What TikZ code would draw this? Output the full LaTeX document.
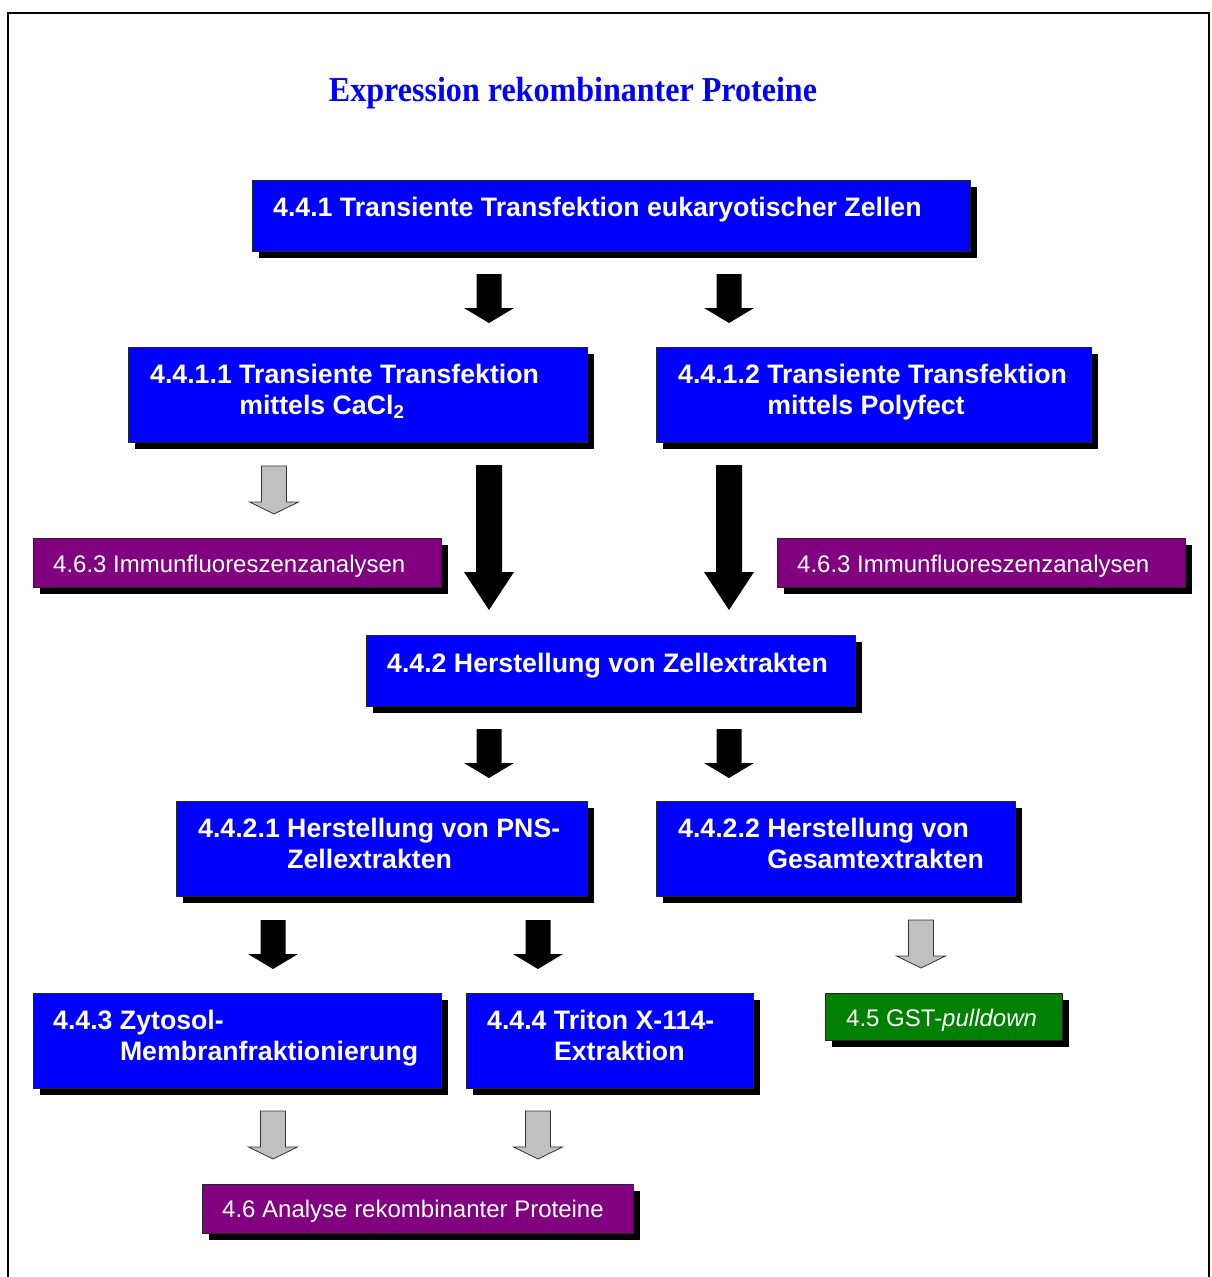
\documentclass[tikz,border=0pt]{standalone}
\usepackage{graphicx}
\usepackage{fontspec}
\setmainfont{Liberation Sans}
\newfontfamily\titlefont{Liberation Serif}
\usetikzlibrary{shadows}
\definecolor{boxblue}{HTML}{0000FF}
\definecolor{boxpurple}{HTML}{800080}
\definecolor{boxgreen}{HTML}{008000}
\definecolor{arrgray}{HTML}{C0C0C0}
\tikzset{
  panel/.style={draw=black!85, line width=1.2pt, fill=#1, inner sep=0pt, anchor=north west,
    drop shadow={shadow xshift=6pt, shadow yshift=-6pt, fill=black, opacity=1}},
  bt/.style={text=white, font=\fontsize{26.7}{31}\selectfont\bfseries, inner sep=0pt, anchor=base west},
  rt/.style={text=white, font=\fontsize{24}{28}\selectfont, inner sep=0pt, anchor=base west},
  pics/smallarr/.style={code={\fill[black] (-12.5,0) -- (12.5,0) -- (12.5,34) -- (25,34) -- (0,49) -- (-25,34) -- (-12.5,34) -- cycle;}},
  pics/bigarr/.style={code={\fill[black] (-13,0) -- (13,0) -- (13,107) -- (25,107) -- (0,145) -- (-25,107) -- (-13,107) -- cycle;}},
  pics/grayarr/.style={code={\filldraw[fill=arrgray, draw=black!80, line width=0.8pt] (-12.5,0) -- (12.5,0) -- (12.5,36) -- (24.5,36) -- (0,48) -- (-24.5,36) -- (-12.5,36) -- cycle;}}
}
\begin{document}
\begin{tikzpicture}[x=1pt,y=-1pt]
\useasboundingbox (0,0) rectangle (1211,1277);
\clip (0,0) rectangle (1211,1277);
\fill[white] (0,0) rectangle (1211,1277);
\draw[line width=1.5pt] (8,1300) -- (8,13) -- (1209,13) -- (1209,1300);

\node[text=boxblue, inner sep=0pt, anchor=base] (title) at (573,101)
  {\resizebox{488pt}{\height}{\titlefont\bfseries\fontsize{35}{40}\selectfont Expression rekombinanter Proteine}};

% boxes
\node[panel=boxblue, minimum width=718pt, minimum height=71pt] (b441) at (252,180) {};
\node[panel=boxblue, minimum width=459pt, minimum height=95pt] (b4411) at (128,347) {};
\node[panel=boxblue, minimum width=435pt, minimum height=95pt] (b4412) at (656,347) {};
\node[panel=boxpurple, minimum width=408pt, minimum height=49pt] (p463l) at (33,538) {};
\node[panel=boxpurple, minimum width=408pt, minimum height=49pt] (p463r) at (777,538) {};
\node[panel=boxblue, minimum width=489pt, minimum height=71pt] (b442) at (366,635) {};
\node[panel=boxblue, minimum width=411pt, minimum height=95pt] (b4421) at (176,801) {};
\node[panel=boxblue, minimum width=359pt, minimum height=95pt] (b4422) at (656,801) {};
\node[panel=boxblue, minimum width=408pt, minimum height=95pt] (b443) at (33,993) {};
\node[panel=boxblue, minimum width=287pt, minimum height=95pt] (b444) at (466,993) {};
\node[panel=boxgreen, minimum width=237pt, minimum height=47pt] (g45) at (825,993) {};
\node[panel=boxpurple, minimum width=431pt, minimum height=49pt] (p46) at (202,1184) {};

% texts
\node[bt] (t441) at (273,216.5) {4.4.1 Transiente Transfektion eukaryotischer Zellen};
\node[bt] (t4411a) at (150,383.5) {4.4.1.1 Transiente Transfektion};
\node[bt] (t4411b) at (150,414.5) {\phantom{4.4.1.1 }mittels CaCl\textsubscript{2}};
\node[bt] (t4412a) at (678,383.5) {4.4.1.2 Transiente Transfektion};
\node[bt] (t4412b) at (678,414.5) {\phantom{4.4.1.2 }mittels Polyfect};
\node[rt] (t463l) at (53,572.6) {4.6.3 Immunfluoreszenzanalysen};
\node[rt] (t463r) at (797,572.6) {4.6.3 Immunfluoreszenzanalysen};
\node[bt] (t442) at (387,672.5) {4.4.2 Herstellung von Zellextrakten};
\node[bt] (t4421a) at (198,837.5) {4.4.2.1 Herstellung von PNS-};
\node[bt] (t4421b) at (198,868.5) {\phantom{4.4.2.1 }Zellextrakten};
\node[bt] (t4422a) at (678,837.5) {4.4.2.2 Herstellung von};
\node[bt] (t4422b) at (678,868.5) {\phantom{4.4.2.2 }Gesamtextrakten};
\node[bt] (t443a) at (53,1029.5) {4.4.3 Zytosol-};
\node[bt] (t443b) at (53,1060.5) {\phantom{4.4.3 }Membranfraktionierung};
\node[bt] (t444a) at (487,1029.5) {4.4.4 Triton X-114-};
\node[bt] (t444b) at (487,1060.5) {\phantom{4.4.4 }Extraktion};
\node[rt] (t45) at (846,1026.6) {4.5 GST-\textit{pulldown}};
\node[rt] (t46) at (222,1217.6) {4.6 Analyse rekombinanter Proteine};

% block arrows
\pic at (489,274) {smallarr};
\pic at (729,274) {smallarr};
\pic at (489,465) {bigarr};
\pic at (729,465) {bigarr};
\pic at (274,466) {grayarr};
\pic at (489,729) {smallarr};
\pic at (729,729) {smallarr};
\pic at (273,920) {smallarr};
\pic at (538,920) {smallarr};
\pic at (921,920) {grayarr};
\pic at (273,1111) {grayarr};
\pic at (538,1111) {grayarr};
\end{tikzpicture}
\end{document}
